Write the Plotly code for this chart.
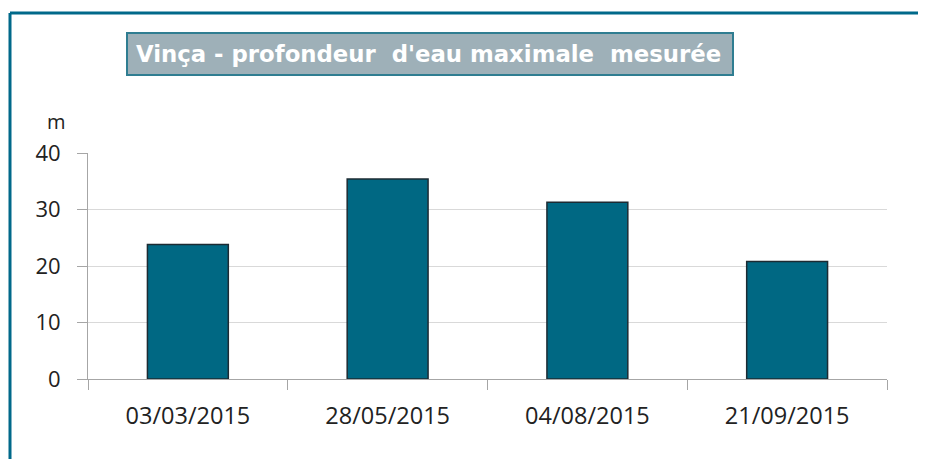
import plotly.graph_objects as go

dates = ["03/03/2015", "28/05/2015", "04/08/2015", "21/09/2015"]
depth_m = [23.8, 35.4, 31.3, 20.8]
y_ticks = [0, 10, 20, 30, 40]

title_text = "Vinça - profondeur  d'eau maximale  mesurée"

# the page puts the figure 8px in from the top left corner
OFF = 8
W, H = 926 - OFF, 459 - OFF

# plot area in screen pixels: x 88..887, y 153..379
PL, PR, PT, PB = 88, 887, 153, 379


def px_x(v):
    return (v - PL) / (PR - PL)


def px_y(v):
    return (PB - v) / (PB - PT)


fig = go.Figure()

fig.add_trace(go.Bar(
    x=dates,
    y=depth_m,
    marker=dict(color="#006883", line=dict(color="#1c2b33", width=1.5)),
    hovertemplate="<b>%{x}</b><br>%{y:.1f} m<extra></extra>",
))

frame = dict(color="#00698a", width=3)

fig.update_layout(
    width=W,
    height=H,
    margin=dict(l=PL - OFF, r=W + OFF - PR, t=PT - OFF, b=H + OFF - PB),
    plot_bgcolor="white",
    paper_bgcolor="white",
    showlegend=False,
    bargap=0.595,
    font=dict(family="Open Sans", size=22, color="#222222"),
    xaxis=dict(
        type="category",
        showline=True,
        linecolor="#a6a6a6",
        linewidth=1,
        ticks="outside",
        tickson="boundaries",
        ticklen=10,
        tickcolor="#a6a6a6",
        showgrid=False,
        tickfont=dict(family="Open Sans", size=23.5, color="#222222"),
        ticklabelstandoff=16,
    ),
    yaxis=dict(
        range=[0, 40],
        tickvals=y_ticks,
        showline=True,
        linecolor="#a6a6a6",
        linewidth=1,
        ticks="outside",
        ticklen=10,
        tickcolor="#a6a6a6",
        showgrid=True,
        gridcolor="#d9d9d9",
        gridwidth=1,
        zeroline=False,
        tickfont=dict(family="Open Sans", size=22, color="#222222"),
        ticklabelstandoff=12,
    ),
    shapes=[
        # outer frame: top and left edges, the rest runs off the picture
        dict(type="line", xref="paper", yref="paper",
             x0=px_x(10), x1=px_x(926), y0=px_y(13), y1=px_y(13), line=frame),
        dict(type="line", xref="paper", yref="paper",
             x0=px_x(10), x1=px_x(10), y0=px_y(13), y1=px_y(470), line=frame),
        # title box
        dict(type="rect", xref="paper", yref="paper",
             x0=px_x(127), x1=px_x(733), y0=px_y(75), y1=px_y(33),
             line=dict(color="#2f7d91", width=2), fillcolor="#9eb0b8"),
    ],
    annotations=[
        dict(text=title_text, xref="paper", yref="paper",
             x=px_x(428), y=px_y(54), showarrow=False,
             xanchor="center", yanchor="middle",
             font=dict(family="DejaVu Sans", size=22.8, color="white", weight="bold")),
        dict(text="m", xref="paper", yref="paper",
             x=px_x(56), y=px_y(121), showarrow=False,
             xanchor="center", yanchor="middle",
             font=dict(family="Open Sans", size=20, color="#222222")),
    ],
)

fig.write_html("out.html")
